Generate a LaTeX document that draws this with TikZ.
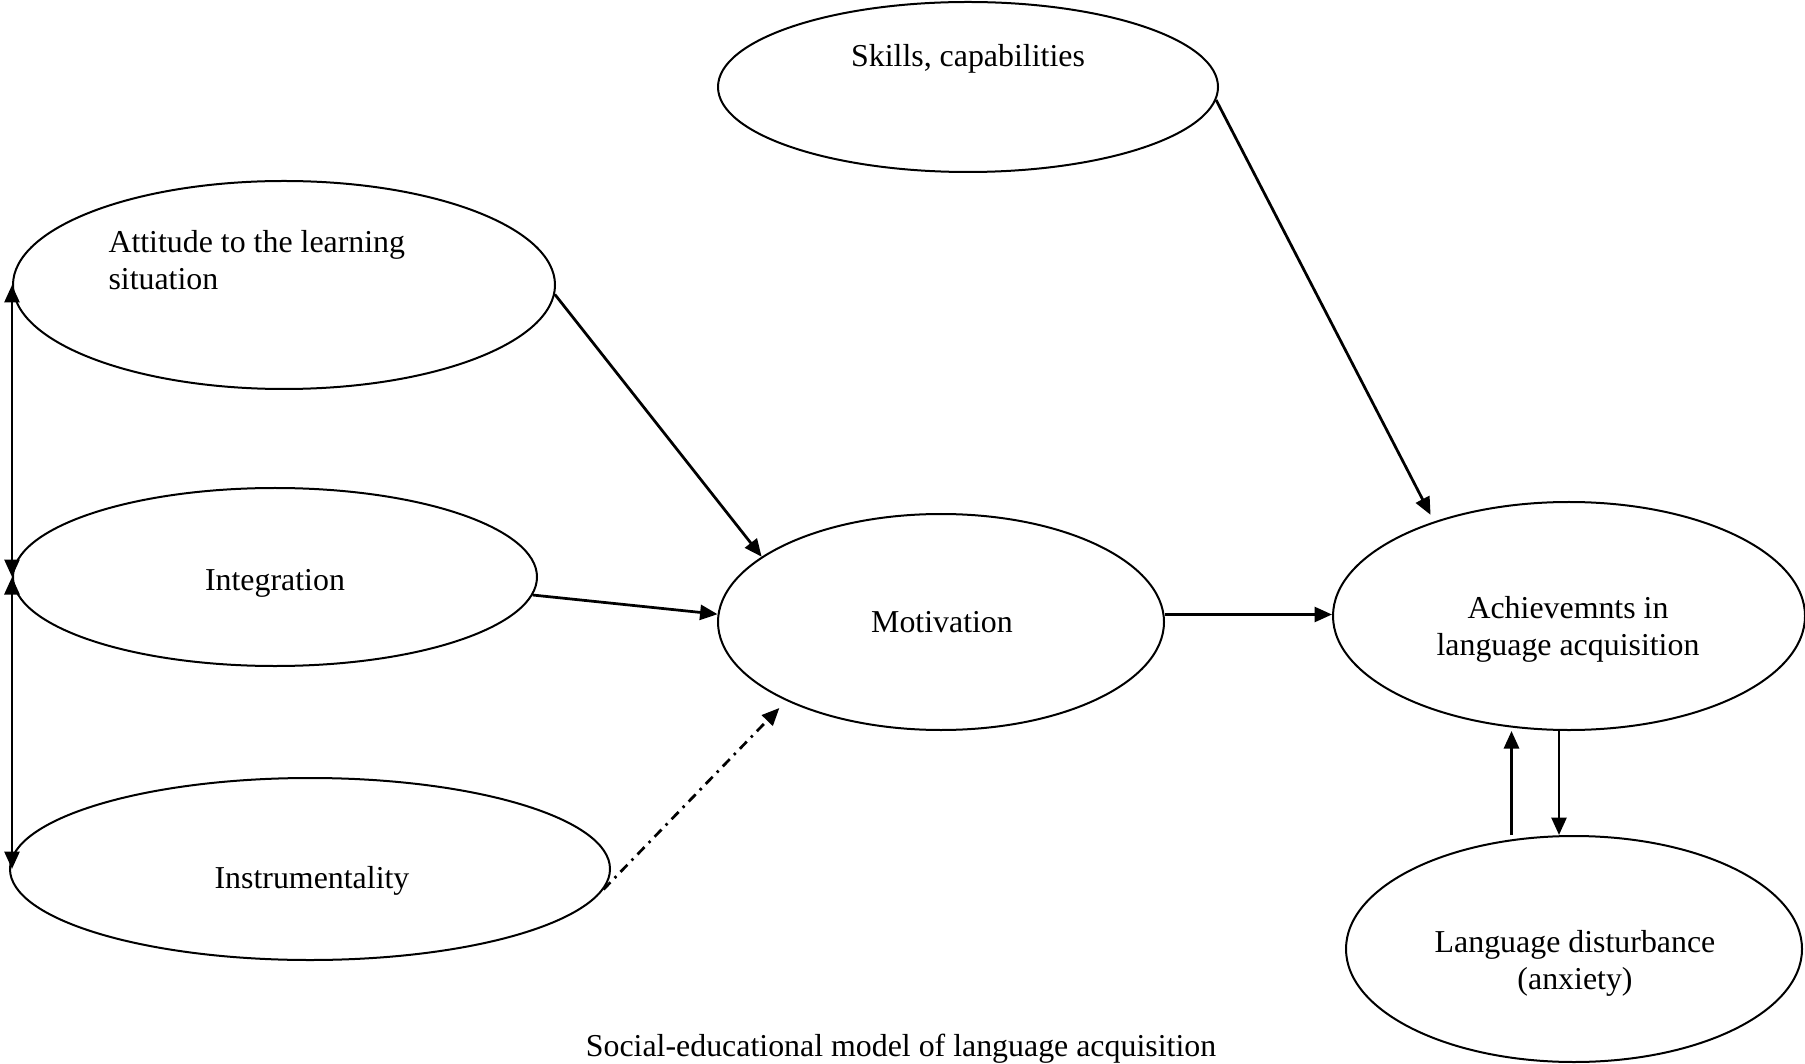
\documentclass[tikz,border=0pt]{standalone}
\usepackage{fontspec}
\setmainfont{Liberation Serif}
\usetikzlibrary{shapes.geometric,arrows.meta}
\begin{document}
\begin{tikzpicture}[x=0.4pt,y=-0.4pt,
  oval/.style={draw,ellipse,line width=0.8pt,inner sep=0pt},
  lbl/.style={font=\fontsize{12.75}{14.8}\selectfont,inner sep=0pt,align=center},
  arr/.style={line width=1.1pt,-{Triangle[length=7pt,width=6pt]}},
  darr/.style={line width=1.1pt,{Triangle[length=7pt,width=6pt]}-{Triangle[length=7pt,width=6pt]}}]
\useasboundingbox (0,0) rectangle (1805,1064);
% ellipses
\node[oval,minimum width=200pt,minimum height=68pt] (skills) at (968,87) {};
\node[oval,minimum width=216.8pt,minimum height=83.2pt] (att) at (284,285) {};
\node[oval,minimum width=209.6pt,minimum height=71.2pt] (integ) at (275,577) {};
\node[oval,minimum width=240pt,minimum height=72.8pt] (instr) at (310,869) {};
\node[oval,minimum width=178.4pt,minimum height=86.4pt] (mot) at (941,622) {};
\node[oval,minimum width=188.8pt,minimum height=91.2pt] (ach) at (1569,616) {};
\node[oval,minimum width=182.4pt,minimum height=90.4pt] (lang) at (1574,949) {};
% labels
\node[lbl] (tskills) at (968,59) {Skills, capabilities};
\node[lbl,align=left,anchor=west] (tatt) at (108,260) {Attitude to the learning\\situation};
\node[lbl] (tinteg) at (275,583) {Integration};
\node[lbl] (tinstr) at (312,881) {Instrumentality};
\node[lbl] (tmot) at (942,622) {Motivation};
\node[lbl] (tach) at (1568,629) {Achievemnts in\\language acquisition};
\node[lbl] (tlang) at (1575,963) {Language disturbance\\(anxiety)};
\node[lbl] (caption) at (901,1049) {Social-educational model of language acquisition};
% connectors
\draw[arr,shorten >=3pt] (skills.-3) -- (ach.145);
\draw[arr] (att.-2) -- (mot.160);
\draw[arr] (integ.-4) -- (mot.178);
\draw[arr,shorten >=4pt,dash pattern=on 4pt off 2.4pt on 1pt off 2.4pt] (instr.-4) -- (mot.207);
\draw[arr] ([yshift=3pt]mot.east) -- ([yshift=3pt]mot.east -| ach.west);
\draw[darr] (att.west) -- (att.west |- integ.west);
\draw[darr] (integ.west) -- (integ.west |- instr.west);
\draw[arr] ([xshift=-25pt]lang.north) -- ([xshift=-25pt]lang.north |- ach.south);
\draw[arr] ([xshift=-4pt]ach.south) -- ([xshift=-4pt]ach.south |- lang.north);
\end{tikzpicture}
\end{document}
